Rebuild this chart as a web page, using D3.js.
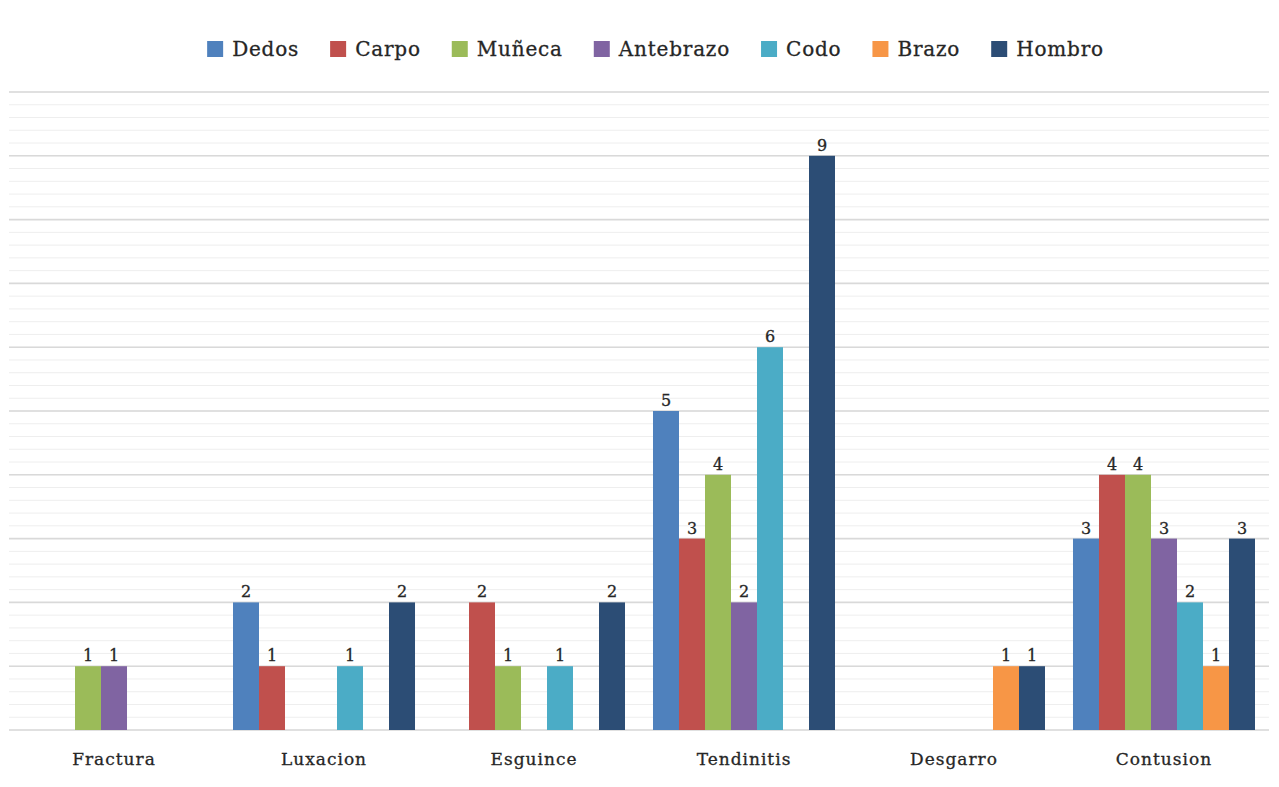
<!DOCTYPE html>
<html><head><meta charset="utf-8">
<script src="https://cdn.jsdelivr.net/npm/d3@7"></script>
<style>body{margin:0;background:#fff}svg{display:block}</style>
</head><body>
<svg id="c" width="1279" height="787"></svg>
<script>
const categories = ["Fractura","Luxacion","Esguince","Tendinitis","Desgarro","Contusion"];
const seriesNames = ["Dedos","Carpo","Muñeca","Antebrazo","Codo","Brazo","Hombro"];
const Dedos     = [null, 2, null, 5, null, 3];
const Carpo     = [null, 1, 2, 3, null, 4];
const Muneca    = [1, null, 1, 4, null, 4];
const Antebrazo = [1, null, null, 2, null, 3];
const Codo      = [null, 1, 1, 6, null, 2];
const Brazo     = [null, null, null, null, 1, 1];
const Hombro    = [null, 2, 2, 9, 1, 3];
const seriesValues = [Dedos, Carpo, Muneca, Antebrazo, Codo, Brazo, Hombro];
const colors = ["#4F81BD","#C0504D","#9BBB59","#8064A2","#4BACC6","#F79646","#2C4D75"];
const yMax = 10;

const svg = d3.select("#c");
const font = "'DejaVu Serif', serif";
const m = {left: 9, right: 10, top: 92, bottom: 57};
const W = 1279, H = 787;
const x0 = d3.scaleBand().domain(categories).range([m.left, W - m.right]).paddingInner(0.1333).paddingOuter(0.0667);
const x1 = d3.scaleBand().domain(seriesNames).range([0, x0.bandwidth()]);
const y = d3.scaleLinear().domain([0, yMax]).range([H - m.bottom, m.top]);

// gridlines
const g = svg.append("g");
g.selectAll("line.minor").data(d3.range(0, yMax + 0.001, 0.2)).join("line")
  .attr("x1", m.left).attr("x2", W - m.right)
  .attr("y1", d => y(d)).attr("y2", d => y(d))
  .attr("stroke", "#eeeeee").attr("stroke-width", 1);
g.selectAll("line.major").data(y.ticks(10)).join("line")
  .attr("x1", m.left).attr("x2", W - m.right)
  .attr("y1", d => y(d)).attr("y2", d => y(d))
  .attr("stroke", "#d9d9d9").attr("stroke-width", 1.6);

// bars
const groups = svg.append("g").selectAll("g").data(categories).join("g")
  .attr("transform", d => `translate(${x0(d)},0)`);
groups.each(function(cat, ci) {
  const data = seriesNames.map((s, si) => ({s, si, v: seriesValues[si][ci]})).filter(d => d.v != null);
  const gg = d3.select(this);
  gg.selectAll("rect").data(data).join("rect")
    .attr("x", d => x1(d.s)).attr("width", x1.bandwidth())
    .attr("y", d => y(d.v)).attr("height", d => y(0) - y(d.v))
    .attr("fill", d => colors[d.si]);
  gg.selectAll("text").data(data).join("text")
    .attr("x", d => x1(d.s) + x1.bandwidth() / 2).attr("y", d => y(d.v) - 5)
    .attr("text-anchor", "middle").attr("font-family", font).attr("font-size", 16)
    .attr("fill", "#262626").attr("stroke", "#262626").attr("stroke-width", 0.3).text(d => d.v);
});

// category axis labels
const xAxis = svg.append("g").attr("transform", `translate(0,${y(0)})`)
  .call(d3.axisBottom(x0).tickSize(0).tickPadding(23));
xAxis.select(".domain").remove();
xAxis.selectAll("text").attr("font-family", font).attr("font-size", 17).attr("letter-spacing", 1)
  .attr("fill", "#262626").attr("stroke", "#262626").attr("stroke-width", 0.3);

// legend
const leg = svg.append("g");
let lx = 0;
seriesNames.forEach((s, i) => {
  const it = leg.append("g");
  it.append("rect").attr("x", 0).attr("y", -8).attr("width", 16).attr("height", 16).attr("fill", colors[i]);
  const t = it.append("text").attr("x", 25).attr("y", 7).attr("font-family", font).attr("font-size", 20)
    .attr("letter-spacing", 0.8).attr("fill", "#262626").attr("stroke", "#262626").attr("stroke-width", 0.3).text(s);
  const w = 25 + t.node().getComputedTextLength();
  it.attr("transform", `translate(${lx},0)`);
  lx += w + 31;
});
const total = lx - 31;
leg.attr("transform", `translate(${(203 + 1108) / 2 - total / 2},49)`);
</script>
</body></html>
